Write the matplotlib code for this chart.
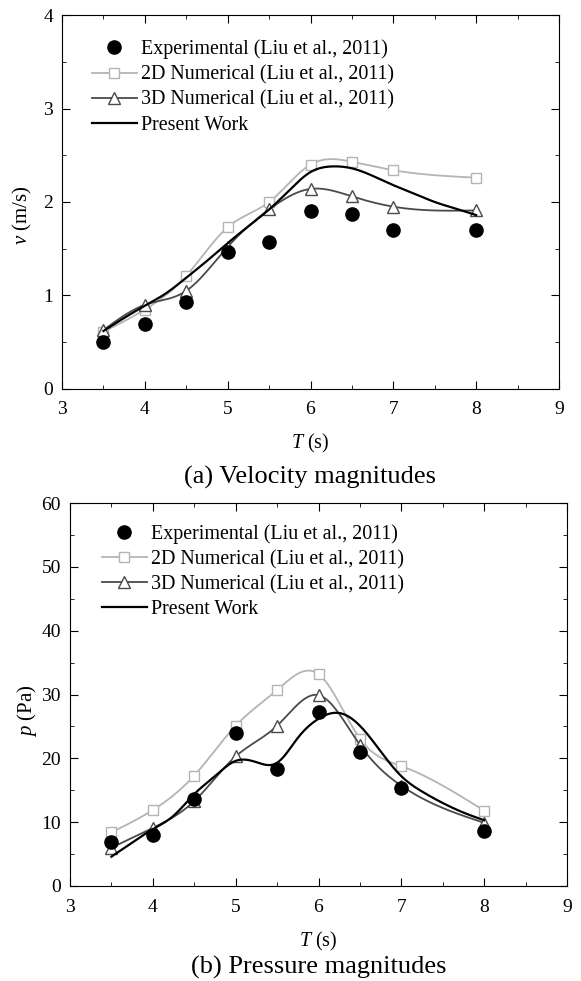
import matplotlib
matplotlib.use("Agg")
import matplotlib.pyplot as plt
import numpy as np
from matplotlib.ticker import MultipleLocator

plt.rcParams['font.family'] = ['Liberation Serif', 'DejaVu Serif']
plt.rcParams['mathtext.fontset'] = 'custom'
plt.rcParams['mathtext.it'] = 'Liberation Serif:italic'
plt.rcParams['mathtext.rm'] = 'Liberation Serif'

# Sample times (s)
T = [3.5, 4.0, 4.5, 5.0, 5.5, 6.0, 6.5, 7.0, 8.0]

# (a) velocity magnitudes (m/s)
v_exp = [0.50, 0.70, 0.93, 1.47, 1.57, 1.90, 1.87, 1.70, 1.70]
v_2d = [0.61, 0.85, 1.21, 1.73, 2.00, 2.40, 2.43, 2.34, 2.26]
v_3d = [0.63, 0.90, 1.05, 1.52, 1.92, 2.14, 2.06, 1.95, 1.91]
T_pw = [3.5, 3.75, 4.0, 4.25, 4.5, 4.75, 5.0, 5.25, 5.5, 5.75, 6.0, 6.25,
        6.5, 6.75, 7.0, 7.25, 7.5, 7.75, 8.0]
v_pw = [0.62, 0.76, 0.89, 1.02, 1.19, 1.37, 1.56, 1.74, 1.92, 2.13, 2.32,
        2.38, 2.36, 2.28, 2.18, 2.09, 2.00, 1.93, 1.86]

# (b) pressure magnitudes (Pa)
p_exp = [6.9, 8.0, 13.7, 24.0, 18.3, 27.3, 21.0, 15.3, 8.6]
p_2d = [8.4, 11.9, 17.3, 25.1, 30.7, 33.2, 23.1, 18.8, 11.8]
p_3d = [6.0, 9.1, 13.3, 20.3, 25.1, 29.9, 22.1, 15.7, 9.9]
p_pw = [4.6, 6.8, 8.9, 11.0, 14.4, 17.2, 19.6, 19.4, 19.3, 23.2, 26.2,
        27.1, 25.1, 21.1, 17.2, 14.8, 13.0, 11.5, 10.3]

labels = ['Experimental (Liu et al., 2011)', '2D Numerical (Liu et al., 2011)',
          '3D Numerical (Liu et al., 2011)', 'Present Work']


def spline(x, y, n=300):
    # natural cubic spline, only used to draw smooth connecting lines
    x = np.asarray(x, float)
    y = np.asarray(y, float)
    h = np.diff(x)
    m = len(x)
    A = np.zeros((m, m))
    b = np.zeros(m)
    A[0, 0] = A[-1, -1] = 1
    for i in range(1, m - 1):
        A[i, i - 1] = h[i - 1]
        A[i, i] = 2 * (h[i - 1] + h[i])
        A[i, i + 1] = h[i]
        b[i] = 6 * ((y[i + 1] - y[i]) / h[i] - (y[i] - y[i - 1]) / h[i - 1])
    M = np.linalg.solve(A, b)
    xs = np.linspace(x[0], x[-1], n)
    k = np.clip(np.searchsorted(x, xs) - 1, 0, m - 2)
    t1 = x[k + 1] - xs
    t0 = xs - x[k]
    hk = h[k]
    ys = (M[k] * t1 ** 3 + M[k + 1] * t0 ** 3) / (6 * hk) \
        + (y[k] / hk - M[k] * hk / 6) * t1 + (y[k + 1] / hk - M[k + 1] * hk / 6) * t0
    return xs, ys


c2d = '#b4b4b4'
c3d = '#4a4a4a'

fig = plt.figure(figsize=(5.81, 9.81), dpi=100)
W, H = 581, 981
ax1 = fig.add_axes([62 / W, 1 - 389 / H, 497 / W, 374 / H])
ax2 = fig.add_axes([70 / W, 1 - 886 / H, 497 / W, 383 / H])


def draw(ax, y_exp, y_2d, y_3d, y_pw, leg_anchor):
    ax.plot(T, y_exp, 'o', color='black', ms=9.5, zorder=5)
    xs, ys = spline(T, y_2d)
    ax.plot(xs, ys, '-', color=c2d, lw=1.3)
    ax.plot(T, y_2d, 's', mfc='white', mec=c2d, ms=6.5, mew=1.0)
    xs, ys = spline(T, y_3d)
    ax.plot(xs, ys, '-', color=c3d, lw=1.3)
    ax.plot(T, y_3d, '^', mfc='white', mec=c3d, ms=8.5, mew=1.0)
    xs, ys = spline(T_pw, y_pw)
    ax.plot(xs, ys, '-', color='black', lw=1.6, zorder=4)
    h = [plt.Line2D([], [], ls='none', marker='o', color='black', ms=9.5),
         plt.Line2D([], [], color=c2d, lw=1.3, marker='s', mfc='white', mec=c2d, ms=6.5),
         plt.Line2D([], [], color=c3d, lw=1.3, marker='^', mfc='white', mec=c3d, ms=8.5),
         plt.Line2D([], [], color='black', lw=1.6)]
    ax.legend(h, labels, loc='upper left', bbox_to_anchor=leg_anchor, frameon=False,
              fontsize=14.4, handlelength=2.25, labelspacing=0.3, handletextpad=0.2,
              borderaxespad=0, borderpad=0)
    ax.set_xlim(3, 9)
    ax.xaxis.set_major_locator(MultipleLocator(1))
    ax.xaxis.set_minor_locator(MultipleLocator(0.5))
    ax.tick_params(which='both', direction='in', top=True, right=True, labelsize=14)
    ax.tick_params(axis='x', which='major', pad=9)
    ax.tick_params(axis='y', which='major', pad=6.5)
    ax.tick_params(which='major', length=6)
    ax.tick_params(which='minor', length=3)
    ax.set_xlabel(r'$T$ (s)', fontsize=14.5)
    ax.xaxis.label.set_va('center')


draw(ax1, v_exp, v_2d, v_3d, v_pw, (0.060, 0.934))
ax1.set_ylim(0, 4)
ax1.yaxis.set_major_locator(MultipleLocator(1))
ax1.yaxis.set_minor_locator(MultipleLocator(0.5))
ax1.set_ylabel(r'$v$ (m/s)', fontsize=15)
ax1.xaxis.set_label_coords(0.5, -0.147)
ax1.yaxis.set_label_coords(-0.079, 0.465)
ax1.yaxis.label.set_va('center')
fig.text(0.5 * (62 + 559) / W, 1 - 477 / H, '(a) Velocity magnitudes', ha='center',
         va='center', fontsize=19)

draw(ax2, p_exp, p_2d, p_3d, p_pw, (0.064, 0.945))
ax2.set_ylim(0, 60)
ax2.yaxis.set_major_locator(MultipleLocator(10))
ax2.yaxis.set_minor_locator(MultipleLocator(5))
ax2.set_ylabel(r'$p$ (Pa)', fontsize=15)
ax2.xaxis.set_label_coords(0.5, -0.146)
ax2.yaxis.set_label_coords(-0.0865, 0.457)
ax2.yaxis.label.set_va('center')
fig.text(0.5 * (70 + 567) / W, 1 - 967 / H, '(b) Pressure magnitudes', ha='center',
         va='center', fontsize=19)

fig.savefig('out.png', dpi=100)
